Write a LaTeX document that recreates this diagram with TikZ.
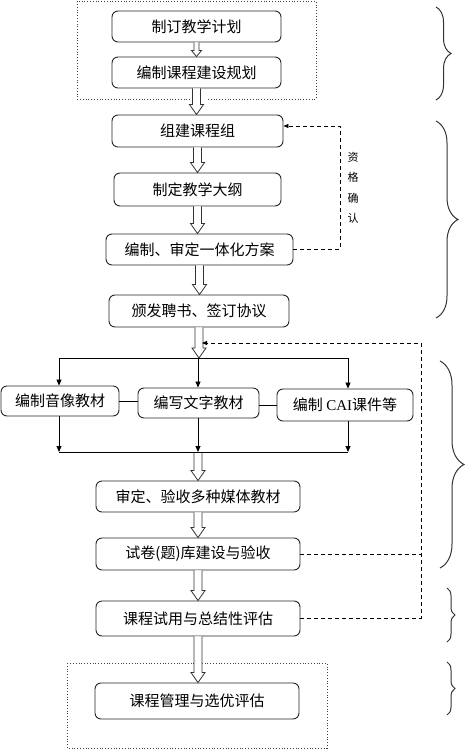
\documentclass[tikz,border=0pt]{standalone}
\usepackage{fontspec}
\newfontfamily\cjk{Noto Sans CJK SC}
\newfontfamily\lserif{Liberation Serif}
\usetikzlibrary{arrows.meta,calc,decorations.pathreplacing}
\tikzset{
 box/.style={draw=black!85, line width=0.9pt, rounded corners=6pt, fill=white, inner sep=0pt, font=\cjk\fontsize{15}{18}\selectfont, text=black},
 harr/.style={draw=black!80, fill=white, line width=0.8pt, line join=miter},
 thinarr/.style={draw=black, line width=0.8pt, -{Triangle[length=6pt,width=5pt]}},
 plainline/.style={draw=black, line width=0.8pt},
 dashline/.style={draw=black, line width=0.8pt, dash pattern=on 4pt off 3pt},
 dotbox/.style={draw=black!75, line width=0.8pt, dotted},
 brc/.style={draw=black!80, line width=1pt, decorate, decoration={brace, amplitude=#1}},
}
\newcommand\harrow[5]{%
 \filldraw[harr] let \p1=(#1), \p2=(#2) in
  (\x1-#3,\y1) -- (\x1-#3,\y2+#5) -- (\x1-#4,\y2+#5) -- (\x1,\y2) -- (\x1+#4,\y2+#5) -- (\x1+#3,\y2+#5) -- (\x1+#3,\y1);}
\begin{document}
\begin{tikzpicture}[x=1pt,y=-1pt]
\useasboundingbox (0,0) rectangle (467,749);
% dotted frames
\draw[dotbox] (190,99) -- (77,99) -- (77,1) -- (316,1) -- (316,99) -- (207,99);
\draw[dotbox] (67,663) rectangle (327,748);
% nodes
\node[box, minimum width=169pt, minimum height=31pt] (b1) at (196.5,26.5) {制订教学计划};
\node[box, minimum width=169pt, minimum height=31pt] (b2) at (196.5,72.5) {编制课程建设规划};
\node[box, minimum width=171pt, minimum height=32pt] (b3) at (197.5,131) {组建课程组};
\node[box, minimum width=167pt, minimum height=33pt] (b4) at (197.5,189.5) {制定教学大纲};
\node[box, minimum width=187pt, minimum height=31pt] (b5) at (199.5,249.5) {编制、审定一体化方案};
\node[box, minimum width=180pt, minimum height=32pt] (b6) at (199,311) {颁发聘书、签订协议};
\node[box, minimum width=118pt, minimum height=30pt] (m1) at (60,401) {编制音像教材};
\node[box, minimum width=121pt, minimum height=30pt] (m2) at (198.5,403) {编写文字教材};
\node[box, minimum width=136pt, minimum height=32pt] (m3) at (345,405) {编制 {\lserif CAI}课件等};
\node[box, minimum width=204pt, minimum height=31pt] (b7) at (198,496.5) {审定、验收多种媒体教材};
\node[box, minimum width=204pt, minimum height=32pt] (b8) at (198,554) {试卷(题)库建设与验收};
\node[box, minimum width=204pt, minimum height=35pt] (b9) at (198,618.5) {课程试用与总结性评估};
\node[box, minimum width=204pt, minimum height=36pt] (b10) at (197,701) {课程管理与选优评估};
\node[font=\cjk\fontsize{11}{20.5}\selectfont, align=center, inner sep=0pt] (lab) at (353,188) {资\\格\\确\\认};
% coordinates
\coordinate (topL) at (59,358);
\coordinate (topM) at (198,358);
\coordinate (topR) at (348,358);
\coordinate (botL) at (59,452);
\coordinate (botM) at (198,452);
\coordinate (botR) at (348,452);
\coordinate (qx) at (340,126);
\coordinate (fbx) at (421,343);
\coordinate (fbtip) at (202,343);
% hollow arrows
\harrow{b1.south}{b2.north}{2.5pt}{5pt}{6pt}
\harrow{b2.south}{b3.north}{4pt}{7pt}{10pt}
\harrow{b3.south}{b4.north}{4pt}{7pt}{10pt}
\harrow{b4.south}{b5.north}{4pt}{7pt}{10pt}
\harrow{b5.south}{b6.north}{4pt}{7pt}{10pt}
\harrow{b6.south}{topM}{4pt}{7pt}{10pt}
\harrow{botM}{b7.north}{4pt}{7pt}{10pt}
\harrow{b7.south}{b8.north}{4pt}{7pt}{10pt}
\harrow{b8.south}{b9.north}{4pt}{7pt}{10pt}
\harrow{b9.south}{b10.north}{4pt}{7pt}{10pt}
% branch lines
\draw[plainline] (topL) -- (topR);
\draw[plainline] (botL) -- (botR);
\draw[thinarr] (topL) -- (topL |- m1.north);
\draw[thinarr] (topM) -- (topM |- m2.north);
\draw[thinarr] (topR) -- (topR |- m3.north);
\draw[thinarr] (m1.south -| botL) -- (botL);
\draw[thinarr] (m2.south -| botM) -- (botM);
\draw[thinarr] (m3.south -| botR) -- (botR);
\draw[plainline] (m1.east) -- (m1.east -| m2.west);
\draw[plainline] (m3.west -| m2.east) -- (m3.west);
% dashed feedback
\draw[dashline, -{Triangle[length=5pt,width=4pt]}] (b5.east) -- (b5.east -| qx) -- (qx) -- (qx -| b3.east);
\draw[dashline] (b8.east) -- (b8.east -| fbx);
\draw[dashline, -{Triangle[length=5pt,width=4pt]}] (b9.east) -- (b9.east -| fbx) -- (fbx) -- (fbtip);
% braces
\draw[brc=15pt] (436,7) -- (436,100);
\draw[brc=22pt] (436,121) -- (436,318);
\draw[brc=24pt] (440,361) -- (440,568);
\draw[brc=8pt] (447,588) -- (447,642);
\draw[brc=8pt] (447,662) -- (447,715);
\end{tikzpicture}
\end{document}
